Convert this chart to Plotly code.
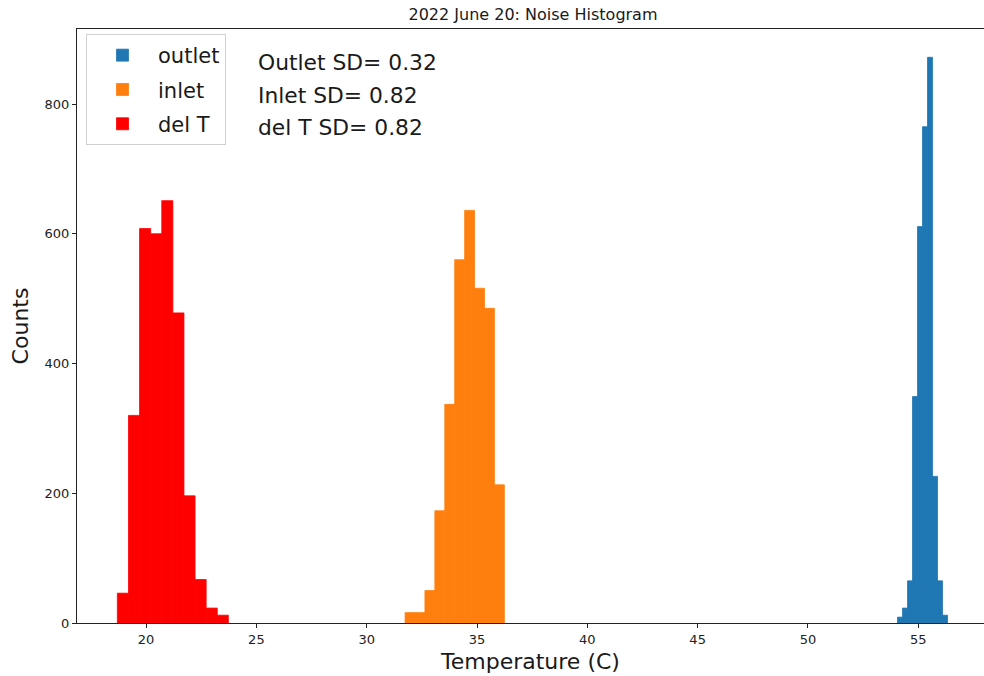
import numpy as np
import plotly.graph_objects as go

# Histogram counts per bin (10 bins each), with the left edge of the first bin and the bin width
outlet_counts = [9, 23, 65, 349, 611, 765, 872, 226, 65, 12]
outlet_start, outlet_width = 54.06, 0.2267

inlet_counts = [16, 16, 50, 173, 337, 560, 636, 516, 485, 213]
inlet_start, inlet_width = 31.74, 0.45

delt_counts = [46, 320, 608, 600, 651, 478, 196, 67, 23, 12]
delt_start, delt_width = 18.70, 0.503

series_names = ["outlet", "inlet", "del T"]
series_colors = ["#1f77b4", "#ff7f0e", "#ff0000"]

sd_labels = ["Outlet SD", "Inlet SD", "del T SD"]
sd_values = [0.32, 0.82, 0.82]

x_ticks = [20, 25, 30, 35, 40, 45, 50, 55]
y_ticks = [0, 200, 400, 600, 800]

FONT = "DejaVu Sans"

fig = go.Figure()
for name, color, counts, start, width in zip(
    series_names,
    series_colors,
    [outlet_counts, inlet_counts, delt_counts],
    [outlet_start, inlet_start, delt_start],
    [outlet_width, inlet_width, delt_width],
):
    edges = start + width * np.arange(len(counts))
    fig.add_trace(
        go.Bar(
            x=edges,
            y=counts,
            width=[width] * len(counts),
            offset=0,
            name=name,
            legendgroup=name,
            # outline in the fill colour so neighbouring bins join without seams
            marker=dict(color=color, line=dict(width=0.8, color=color)),
            hoverinfo="skip",
        )
    )

# Standard-deviation notes in the upper left of the axes
for i, (lab, val) in enumerate(zip(sd_labels, sd_values)):
    fig.add_annotation(
        text=f"{lab}= {val:.2f}",
        xref="paper", yref="paper",
        x=(256 - 77) / 907, y=(623 - (63 + 32.5 * i)) / 594,
        xanchor="left", yanchor="middle",
        showarrow=False,
        font=dict(family=FONT, size=21.8, color="#1a1a1a"),
    )

fig.update_layout(
    width=984,
    height=676,
    margin=dict(l=77, r=0, t=29, b=53),
    paper_bgcolor="white",
    plot_bgcolor="white",
    barmode="overlay",
    font=dict(family=FONT, color="#1a1a1a"),
    title=dict(
        text="2022 June 20: Noise Histogram",
        x=533 / 984, xref="container", xanchor="center",
        y=1 - 14 / 676, yref="container", yanchor="middle",
        font=dict(family=FONT, size=16, color="#1a1a1a"),
    ),
    legend=dict(
        x=(86 - 77) / 907, y=(623 - 34) / 594,
        xanchor="left", yanchor="top",
        bgcolor="white",
        bordercolor="#d0d0d0",
        borderwidth=1,
        font=dict(family=FONT, size=21, color="#1a1a1a"),
        tracegroupgap=4,
        itemwidth=61,
    ),
    showlegend=True,
    xaxis=dict(
        range=[16.87, 57.98],
        tickvals=x_ticks,
        ticks="outside", ticklen=4, tickwidth=1, tickcolor="#222",
        tickfont=dict(family=FONT, size=13, color="#222"),
        showline=True, linecolor="#222", linewidth=1, mirror=True,
        showgrid=False, zeroline=False,
        title=dict(text="Temperature (C)", font=dict(family=FONT, size=22, color="#1a1a1a"), standoff=8),
    ),
    yaxis=dict(
        range=[0, 915.6],
        tickvals=y_ticks,
        ticks="outside", ticklen=4, tickwidth=1, tickcolor="#222",
        tickfont=dict(family=FONT, size=13, color="#222"),
        showline=True, linecolor="#222", linewidth=1, mirror=False,
        showgrid=False, zeroline=False,
        title=dict(text="Counts", font=dict(family=FONT, size=22, color="#1a1a1a"), standoff=9),
    ),
)

fig.write_html("out.html", config={"displayModeBar": False})
